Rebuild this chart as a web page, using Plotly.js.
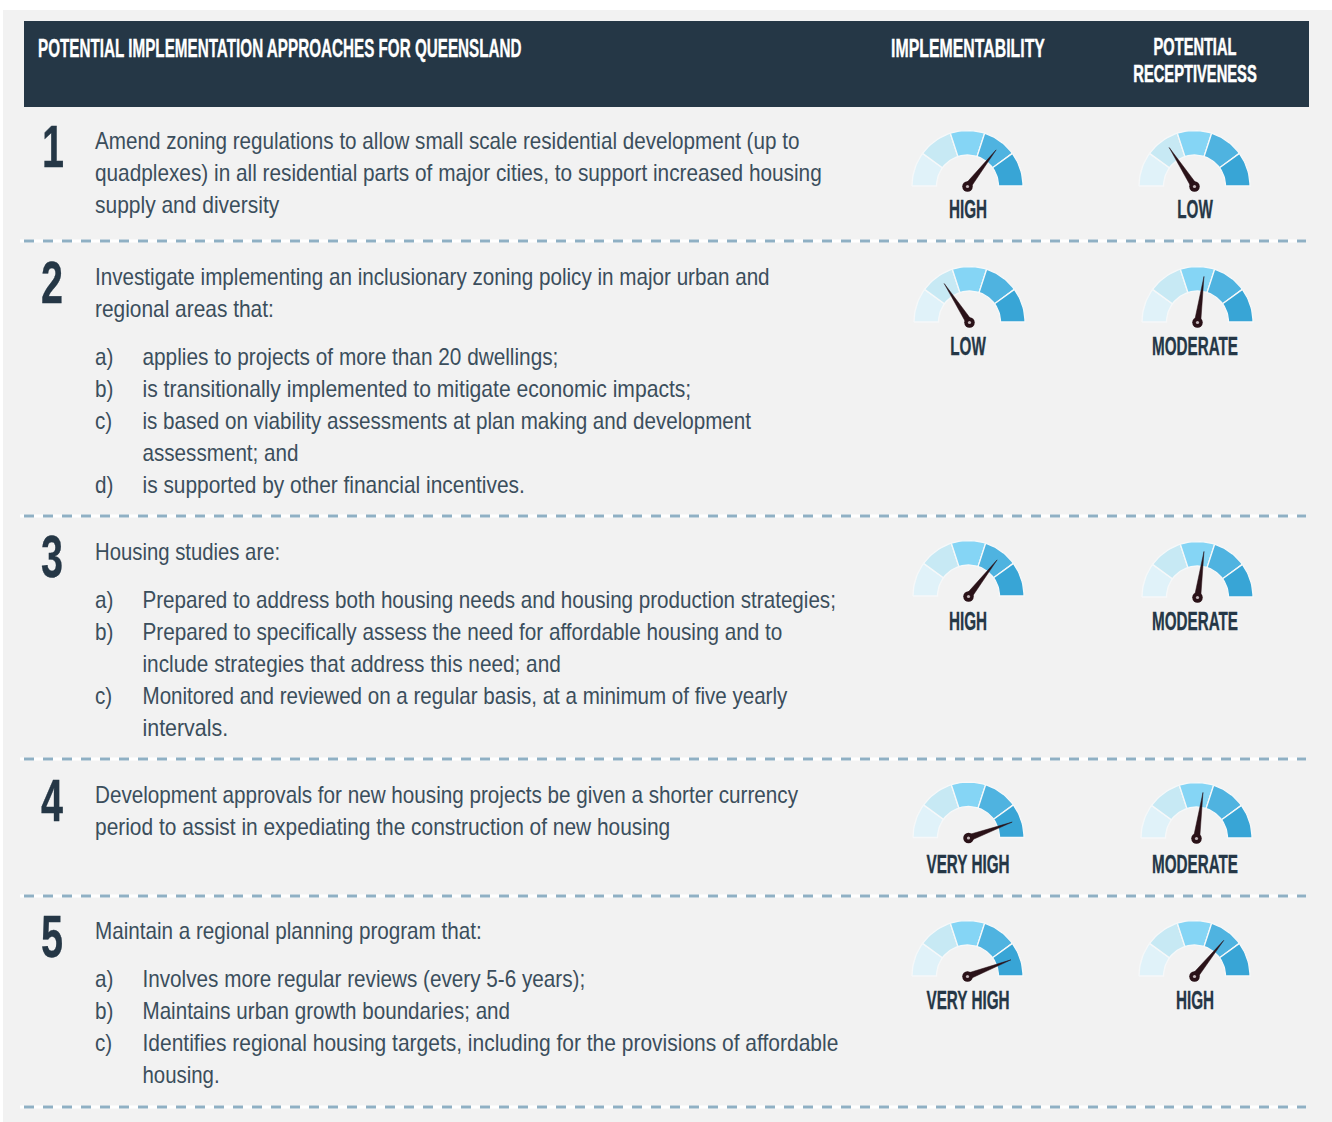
<!DOCTYPE html>
<html><head><meta charset="utf-8">
<script src="https://cdn.plot.ly/plotly-3.0.1.min.js"></script>
<style>html,body{margin:0;padding:0;background:#fff}#chart{width:1332px;height:1122px}</style>
</head><body><div id="chart"></div>
<script>
const headerTitle = ["POTENTIAL IMPLEMENTATION APPROACHES FOR QUEENSLAND","IMPLEMENTABILITY"];
const headerX = [38,968];
const headerY = [50.5,50.5];
const headerPos = ["middle right","middle center"];
const headerSqueeze = [0.586,0.61];
const stackedHeader = ["POTENTIAL","RECEPTIVENESS"];
const stackedHeaderX = [1195,1195];
const stackedHeaderY = [49.5,76.5];
const stackedHeaderSqueeze = [0.635,0.64];

const rowNumbers = ["1","2","3","4","5"];
const rowNumberX = [53,52,52,52,52];
const rowNumberY = [152,288,562,806,942];

const bodyLines = [
"Amend zoning regulations to allow small scale residential development (up to",
"quadplexes) in all residential parts of major cities, to support increased housing",
"supply and diversity",
"Investigate implementing an inclusionary zoning policy in major urban and",
"regional areas that:",
"Housing studies are:",
"Development approvals for new housing projects be given a shorter currency",
"period to assist in expediating the construction of new housing",
"Maintain a regional planning program that:"];
const bodyY = [143,175,207,279,311,554,797,829,933];
const bodySqueeze = [0.86,0.866,0.874,0.86,0.87,0.846,0.861,0.871,0.86];

const listMarkers = ["a)","b)","c)","d)","a)","b)","c)","a)","b)","c)"];
const listMarkerY = [359,391,423,487,602,634,698,981,1013,1045];

const listLines = [
"applies to projects of more than 20 dwellings;",
"is transitionally implemented to mitigate economic impacts;",
"is based on viability assessments at plan making and development",
"assessment; and",
"is supported by other financial incentives.",
"Prepared to address both housing needs and housing production strategies;",
"Prepared to specifically assess the need for affordable housing and to",
"include strategies that address this need; and",
"Monitored and reviewed on a regular basis, at a minimum of five yearly",
"intervals.",
"Involves more regular reviews (every 5-6 years);",
"Maintains urban growth boundaries; and",
"Identifies regional housing targets, including for the provisions of affordable",
"housing."];
const listY = [359,391,423,455,487,602,634,666,698,730,981,1013,1045,1077];
const listSqueeze = [0.866,0.879,0.859,0.86,0.871,0.859,0.863,0.866,0.857,0.891,0.862,0.858,0.874,0.85];

const gaugeLabels = ["HIGH","LOW","LOW","MODERATE","HIGH","MODERATE","VERY HIGH","MODERATE","VERY HIGH","HIGH"];
const gaugeCx = [967.5,1194.5,969.5,1197.5,968.5,1197.5,968.5,1196.5,967.5,1194.5];
const gaugeBaseY = [186,186,322,322,596,597,837.5,838,976,976];
const labelX = [968,1195,968,1195,968,1195,968,1195,968,1195];
const labelY = [211,211,348,348,623,623,866,866,1002,1002];
// needle reading, degrees swept clockwise from the left end of the dial
const needleDeg = [128,57,57,98,128,98,160,98,159,129];

const sectorColors = ["#e0f2f9","#c7e9f4","#85d5f5","#4fb3e0","#38a5d6"];
const dividerY = [241,516,759,896,1107];

const R_OUT = 55.5, R_IN = 31, NEEDLE = 46.5, NEEDLE_BASE = 3.2;
const INK = "#253746", NEEDLE_INK = "#2a1218", BODY_INK = "#3b4e5c";
const SANS = '"Liberation Sans", sans-serif';

function polar(cx, cy, r, deg){
  const a = deg*Math.PI/180;
  return [cx - r*Math.cos(a), cy - r*Math.sin(a)];
}
function sectorTrace(i){
  const xs=[], ys=[];
  gaugeCx.forEach((cx,g)=>{
    const cy=gaugeBaseY[g], a0=i*36, a1=(i+1)*36;
    for(let d=a0;d<=a1;d+=3){const p=polar(cx,cy,R_OUT,d);xs.push(p[0]);ys.push(p[1]);}
    for(let d=a1;d>=a0;d-=3){const p=polar(cx,cy,R_IN,d);xs.push(p[0]);ys.push(p[1]);}
    const p=polar(cx,cy,R_OUT,a0);xs.push(p[0],null);ys.push(p[1],null);
  });
  return {x:xs,y:ys,mode:"lines",fill:"toself",fillcolor:sectorColors[i],
    line:{color:"#f6f8f9",width:1.3},hoverinfo:"skip",showlegend:false};
}
function needleTrace(){
  const xs=[],ys=[];
  gaugeCx.forEach((cx,g)=>{
    const cy=gaugeBaseY[g]+0.5, d=needleDeg[g];
    const t=polar(cx,cy,NEEDLE,d), l=polar(cx,cy,NEEDLE_BASE,d-90), r=polar(cx,cy,NEEDLE_BASE,d+90);
    xs.push(t[0],l[0],r[0],t[0],null); ys.push(t[1],l[1],r[1],t[1],null);
  });
  return {x:xs,y:ys,mode:"lines",fill:"toself",fillcolor:NEEDLE_INK,line:{color:NEEDLE_INK,width:0.5},hoverinfo:"skip",showlegend:false};
}
function textTrace(x,y,text,pos,size,color,weight){
  return {x,y,text,mode:"text",textposition:pos,cliponaxis:false,
    textfont:{size,color,family:SANS,weight},hoverinfo:"skip",showlegend:false};
}
const traces=[];
[0,1,2,3,4].forEach(i=>traces.push(sectorTrace(i)));
traces.push(needleTrace());
traces.push({x:gaugeCx,y:gaugeBaseY.map(v=>v+0.5),mode:"markers",marker:{size:10.5,color:NEEDLE_INK},hoverinfo:"skip",showlegend:false});
traces.push({x:gaugeCx,y:gaugeBaseY.map(v=>v+0.5),mode:"markers",marker:{size:3.2,color:"#c4b6b9"},hoverinfo:"skip",showlegend:false});
const firstTextTrace = traces.length;

// text groups, each condensed horizontally by its own factor
const groups=[
 {t:textTrace(headerX,headerY,headerTitle,headerPos,26,"#ffffff",700),f:headerSqueeze,stroke:"#ffffff",sw:"0.35px"},
 {t:textTrace(stackedHeaderX,stackedHeaderY,stackedHeader,"middle center",23,"#ffffff",700),f:stackedHeaderSqueeze,stroke:"#ffffff",sw:"0.5px"},
 {t:textTrace(rowNumberX,rowNumberY,rowNumbers,"middle center",60,INK,700),f:0.66,stroke:INK,sw:"0.35px"},
 {t:textTrace(bodyY.map(()=>95),bodyY,bodyLines,"middle right",24,BODY_INK,400),f:bodySqueeze},
 {t:textTrace(listMarkerY.map(()=>95),listMarkerY,listMarkers,"middle right",24,BODY_INK,400),f:0.86},
 {t:textTrace(listY.map(()=>142.5),listY,listLines,"middle right",24,BODY_INK,400),f:listSqueeze},
 {t:textTrace(labelX,labelY,gaugeLabels,"middle center",26.5,INK,700),f:0.575,stroke:INK,sw:"0.35px"}
];
groups.forEach(g=>traces.push(g.t));

const shapes=[
 {type:"rect",xref:"x",yref:"y",x0:3,x1:1332,y0:10,y1:1122,fillcolor:"#f2f2f2",line:{width:0},layer:"below"},
 {type:"rect",xref:"x",yref:"y",x0:24,x1:1309,y0:21,y1:107,fillcolor:"#253746",line:{width:0},layer:"below"}
];
dividerY.forEach(y=>{
  shapes.push({type:"line",xref:"x",yref:"y",x0:20,x1:1306,y0:y,y1:y,line:{color:"#ffffff",width:3},layer:"below"});
  shapes.push({type:"line",xref:"x",yref:"y",x0:24,x1:1306,y0:y,y1:y,line:{color:"#8fb0c4",width:3,dash:"10px,9px"},layer:"below"});
});

Plotly.newPlot("chart",traces,{
  width:1332,height:1122,margin:{l:0,r:0,t:0,b:0},
  paper_bgcolor:"#ffffff",plot_bgcolor:"rgba(0,0,0,0)",showlegend:false,
  xaxis:{range:[0,1332],visible:false,fixedrange:true},
  yaxis:{range:[1122,0],visible:false,fixedrange:true},
  shapes
},{displayModeBar:false,staticPlot:true}).then(()=>{
  const layers=document.querySelectorAll("#chart .scatterlayer .trace");
  layers.forEach((tr,i)=>{
    const g=groups[i-firstTextTrace]; if(!g) return;
    tr.querySelectorAll("text").forEach((el,k)=>{
      const f=Array.isArray(g.f)?g.f[k]:g.f;
      el.setAttribute("textLength",(el.getComputedTextLength()*f).toFixed(1));
      el.setAttribute("lengthAdjust","spacingAndGlyphs");
      if(g.stroke){el.style.stroke=g.stroke;el.style.strokeWidth=g.sw;}
    });
  });
});
</script></body></html>
